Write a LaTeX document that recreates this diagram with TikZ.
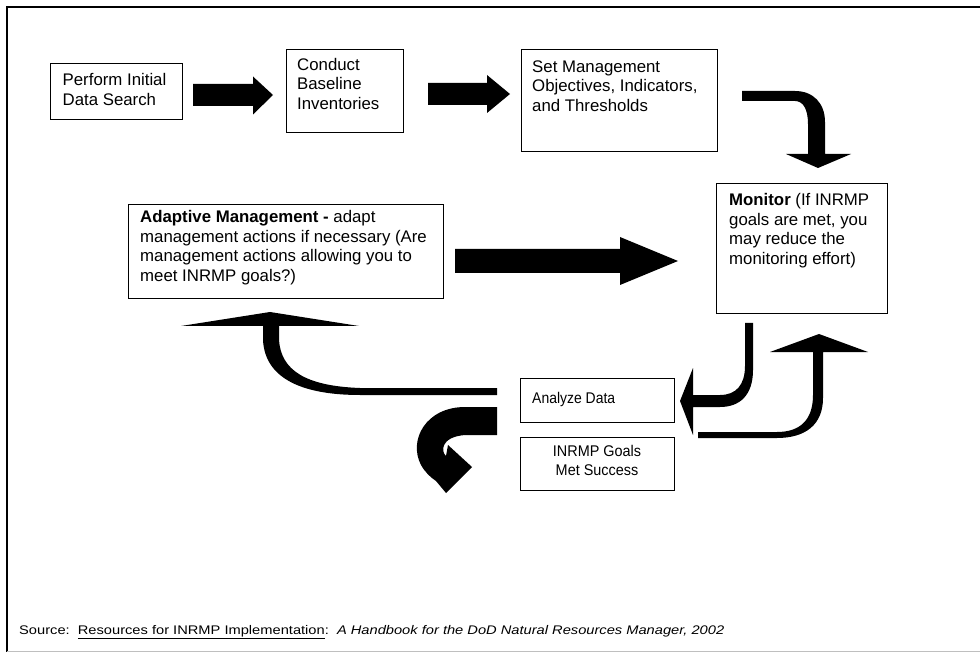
\documentclass[tikz,border=0pt]{standalone}
\usepackage{fontspec}
\setmainfont{Liberation Sans}
\begin{document}
\begin{tikzpicture}[x=1pt,y=-1pt,
  boxnode/.style={draw, line width=1.3pt, inner sep=0pt, anchor=north west},
  txt/.style={inner sep=0pt, anchor=north west, align=left, font=\fontsize{16.8}{19.5}\selectfont},
  smalltxt/.style={inner sep=0pt, align=center, font=\fontsize{15.5}{18.5}\selectfont},
  blk/.style={fill=black}]
\useasboundingbox (0,0) rectangle (980,652);
% frame
\draw[line width=2pt] (7,652) -- (7,7) -- (980,7);
\draw[black!25, line width=0.8pt] (7,651) -- (980,651);

% boxes
\node[boxnode, minimum width=132pt, minimum height=56pt] (b1) at (50,63) {};
\node[txt] (t1) at (62.5,73.5) {Perform Initial\\Data Search};

\node[boxnode, minimum width=117pt, minimum height=83pt] (b2) at (286,49) {};
\node[txt] (t2) at (297,58) {Conduct\\Baseline\\Inventories};

\node[boxnode, minimum width=196pt, minimum height=102pt] (b3) at (521,49) {};
\node[txt] (t3) at (532,60.5) {Set Management\\Objectives, Indicators,\\and Thresholds};

\node[boxnode, minimum width=171pt, minimum height=130pt] (b4) at (716,183) {};
\node[txt] (t4) at (729,193.5) {\textbf{Monitor} (If INRMP\\goals are met, you\\may reduce the\\monitoring effort)};

\node[boxnode, minimum width=315pt, minimum height=94pt] (b5) at (128,204) {};
\node[txt] (t5) at (140,210.5) {\textbf{Adaptive Management -} adapt\\management actions if necessary (Are\\management actions allowing you to\\meet INRMP goals?)};

\node[boxnode, minimum width=154pt, minimum height=44pt] (b6) at (520,378) {};
\node[smalltxt, anchor=north west] (t6) at (532,392.5) {\scalebox{0.9}[1]{Analyze Data}};

\node[boxnode, minimum width=154pt, minimum height=53pt] (b7) at (520,437) {};
\node[smalltxt, anchor=north] (t7) at (597,445.5) {\scalebox{0.93}[1]{INRMP Goals}\\\scalebox{0.93}[1]{Met Success}};

% straight block arrows
\fill[blk] (193,84) -- (253,84) -- (253,76.5) -- (273,95) -- (253,114.5) -- (253,106) -- (193,106) -- cycle;
\fill[blk] (428,83) -- (487,83) -- (487,75) -- (510,94) -- (487,113) -- (487,105) -- (428,105) -- cycle;
\fill[blk] (455,249) -- (620,249) -- (620,237) -- (678,261) -- (620,285) -- (620,273) -- (455,273) -- cycle;

% top right bent arrow (to Monitor)
\fill[blk] (742,91) -- (795,91) .. controls (813,91) and (825,103) .. (825,122) -- (825,154) -- (851,154) -- (818,168) -- (786,154) -- (808,154) -- (808,124) .. controls (808,109) and (803,101) .. (795,101) -- (742,101) -- cycle;

% Monitor -> Analyze (pointing left)
\fill[blk] (753,323) -- (753,370) .. controls (753,395) and (740,407) .. (720,407) -- (693,407) -- (693,435) -- (680,401) -- (693,368) -- (693,395) -- (720,395) .. controls (736,395) and (745,385) .. (745,366) -- (745,323) -- cycle;

% INRMP goals -> Monitor (pointing up)
\fill[blk] (698,432) -- (777,432) .. controls (800,432) and (813,420) .. (813,395) -- (813,352) -- (770,352) -- (819,334) -- (868,352) -- (823,352) -- (823,398) .. controls (823,425) and (805,438) .. (777,438) -- (698,438) -- cycle;

% large curved arrow up to Adaptive Management
\fill[blk] (497,388) -- (360,388) .. controls (305,386) and (281,370) .. (279,340) -- (279,326) -- (359,326) -- (270,312) -- (181,326) -- (263,326) -- (263,340) .. controls (265,380) and (305,395) .. (360,395) -- (497,395) -- cycle;

% C-shaped arrow
\fill[blk] (497,407) -- (465,407) .. controls (426,407) and (408,440) .. (421,465) .. controls (425,472) and (430,477) .. (436,481) -- (446,493) -- (472,467) -- (448,445) -- (446,456) .. controls (441,452) and (440,437) .. (465,435) -- (497,435) -- cycle;

% source
\node[inner sep=0pt, anchor=base west, font=\fontsize{12.5}{14}\selectfont] (src) at (19,634)
  {\resizebox{705pt}{\height}{Source:\ \ \underline{Resources for INRMP Implementation}:\ \ \textit{A Handbook for the DoD Natural Resources Manager, 2002}}};
\end{tikzpicture}
\end{document}
